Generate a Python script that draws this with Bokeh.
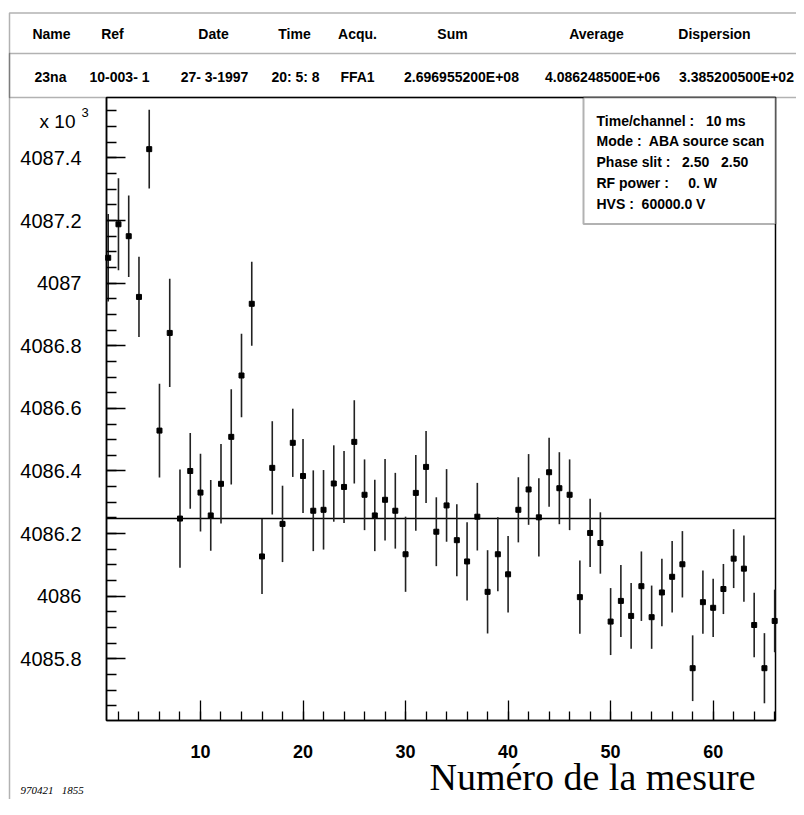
from bokeh.plotting import figure
from bokeh.models import (ColumnDataSource, Label, BoxAnnotation, SingleIntervalTicker,
                          CustomJSTickFormatter, Range1d)
from bokeh.embed import file_html
from bokeh.resources import INLINE

# ---------------- data ----------------
measure = list(range(1, 67))
mean_value = [
    4087.081, 4087.188, 4087.150, 4086.956, 4087.428, 4086.529, 4086.841, 4086.248, 4086.400, 4086.331,
    4086.258, 4086.359, 4086.509, 4086.705, 4086.934, 4086.127, 4086.410, 4086.231, 4086.490, 4086.384,
    4086.273, 4086.276, 4086.360, 4086.349, 4086.493, 4086.324, 4086.258, 4086.308, 4086.273, 4086.134,
    4086.330, 4086.413, 4086.206, 4086.290, 4086.179, 4086.111, 4086.254, 4086.014, 4086.134, 4086.070,
    4086.276, 4086.341, 4086.252, 4086.396, 4086.345, 4086.324, 4085.997, 4086.202, 4086.170, 4085.919,
    4085.985, 4085.937, 4086.032, 4085.933, 4086.012, 4086.062, 4086.102, 4085.770, 4085.981, 4085.963,
    4086.023, 4086.120, 4086.088, 4085.908, 4085.770, 4085.921,
]
error = [
    0.140, 0.147, 0.130, 0.128, 0.126, 0.150, 0.173, 0.157, 0.121, 0.124,
    0.113, 0.127, 0.152, 0.133, 0.134, 0.120, 0.149, 0.122, 0.109, 0.118,
    0.129, 0.127, 0.122, 0.115, 0.133, 0.113, 0.114, 0.130, 0.121, 0.120,
    0.121, 0.115, 0.110, 0.116, 0.115, 0.125, 0.108, 0.133, 0.118, 0.122,
    0.104, 0.113, 0.125, 0.110, 0.115, 0.113, 0.117, 0.109, 0.098, 0.107,
    0.115, 0.105, 0.111, 0.101, 0.108, 0.114, 0.106, 0.105, 0.101, 0.093,
    0.080, 0.094, 0.106, 0.103, 0.112, 0.100,
]
average = 4086.2485

header_names = ["Name", "Ref", "Date", "Time", "Acqu.", "Sum", "Average", "Dispersion"]
header_values = ["23na", "10-003- 1", "27- 3-1997", "20: 5: 8", "FFA1",
                 "2.696955200E+08", "4.086248500E+06", "3.385200500E+02"]
info_lines = ["Time/channel :\u00a0\u00a0 10 ms", "Mode :\u00a0 ABA source scan",
              "Phase slit :\u00a0\u00a0 2.50\u00a0\u00a0 2.50",
              "RF power :\u00a0\u00a0\u00a0\u00a0 0. W", "HVS :\u00a0 60000.0 V"]
x_tick_step = 10
y_tick_step = 0.2
y_scale_text = "x 10"
y_scale_power = "3"
x_title = "Numéro de la mesure"
stamp = "970421\u00a0\u00a0 1855"

# plotted data window
X_LO, X_HI = 0.833, 66.08
Y_LO, Y_HI = 4085.603, 4087.593

# ---------------- layout (canvas pixels) ----------------
W, H = 796, 799
BOX_L, BOX_R, BOX_T, BOX_B = 106, 775, 97, 720   # pixel box of the plotting area
kx = (BOX_R - BOX_L) / (X_HI - X_LO)
ky = (BOX_B - BOX_T) / (Y_HI - Y_LO)
x_range = Range1d(X_LO - BOX_L / kx, X_HI + (W - BOX_R) / kx)
y_range = Range1d(Y_LO - (H - BOX_B) / ky, Y_HI + BOX_T / ky)


def sx(px):
    return px


def sy(py):
    return H - py


SANS = "Liberation Sans"
SCR = dict(left_units="screen", right_units="screen", top_units="screen", bottom_units="screen")

p = figure(width=W, height=H, output_backend="svg", toolbar_location=None,
           x_range=x_range, y_range=y_range, min_border=0)
p.background_fill_color = "white"
p.border_fill_color = "white"
p.outline_line_color = None
p.grid.visible = False

# axes, fixed on the plotting box
p.xaxis.fixed_location = Y_LO
p.yaxis.fixed_location = X_LO
p.xaxis.bounds = (X_LO, X_HI)
p.yaxis.bounds = (Y_LO, Y_HI)
p.xaxis.ticker = SingleIntervalTicker(interval=x_tick_step, num_minor_ticks=5)
p.yaxis.ticker = SingleIntervalTicker(interval=y_tick_step, num_minor_ticks=4)
p.yaxis.formatter = CustomJSTickFormatter(code="return String(Math.round(tick*10)/10)")
for ax in (p.xaxis[0], p.yaxis[0]):
    ax.axis_line_color = "black"
    ax.axis_line_width = 1.5
    ax.major_tick_line_color = "black"
    ax.minor_tick_line_color = "black"
    ax.major_tick_line_width = 1.3
    ax.minor_tick_line_width = 1.3
    ax.major_tick_out = 0
    ax.minor_tick_out = 0
    ax.major_label_text_color = "black"
    ax.major_label_text_font = SANS
p.xaxis.major_tick_in = 20
p.xaxis.minor_tick_in = 9
p.xaxis.major_label_standoff = 24
p.xaxis.major_label_text_font_size = "18px"
p.xaxis.major_label_text_font_style = "bold"
p.yaxis.major_tick_in = 19
p.yaxis.minor_tick_in = 10
p.yaxis.major_label_standoff = 25
p.yaxis.major_label_text_font_size = "20px"

# plotting box (top and right sides) and average line
p.quad(left=[X_LO], right=[X_HI], bottom=[Y_LO], top=[Y_HI], fill_color=None,
       line_color="black", line_width=1.5)
p.segment(x0=[X_LO], x1=[X_HI], y0=[average], y1=[average], line_color="black", line_width=1.5)

# data
src = ColumnDataSource(dict(
    x=measure, y=mean_value,
    lo=[v - e for v, e in zip(mean_value, error)],
    hi=[v + e for v, e in zip(mean_value, error)],
))
p.segment(x0="x", y0="lo", x1="x", y1="hi", source=src, line_color="#222222", line_width=1.6)
p.scatter(x="x", y="y", source=src, marker="square", size=5, fill_color="black", line_color="black")

# header table frame lines
p.add_layout(BoxAnnotation(left=sx(9), right=sx(3000), top=sy(12.5), bottom=sy(3000), **SCR,
                           fill_alpha=0, line_color="black", line_width=1.5))
p.add_layout(BoxAnnotation(left=sx(9), right=sx(3000), top=sy(53), bottom=sy(97), **SCR,
                           fill_alpha=0, line_color="black", line_width=1.5))

name_x = [51, 112, 213, 294, 357, 452, 596, 714]
value_x = [50, 119, 214, 295, 357, 461, 602, 736]
for t, px in zip(header_names, name_x):
    p.add_layout(Label(x=sx(px), y=sy(33), x_units="screen", y_units="screen", text=t,
                       text_align="center", text_baseline="middle", text_font=SANS,
                       text_font_size="14px", text_font_style="bold", text_color="black"))
for t, px in zip(header_values, value_x):
    p.add_layout(Label(x=sx(px), y=sy(76), x_units="screen", y_units="screen", text=t,
                       text_align="center", text_baseline="middle", text_font=SANS,
                       text_font_size="14px", text_font_style="bold", text_color="black"))

# info box
p.add_layout(BoxAnnotation(left=sx(583), right=sx(775), top=sy(97), bottom=sy(223.5), **SCR,
                           fill_color="white", fill_alpha=1, line_color="black", line_width=2))
for i, t in enumerate(info_lines):
    p.add_layout(Label(x=sx(596), y=sy(120 + i * 20.8), x_units="screen", y_units="screen", text=t,
                       text_align="left", text_baseline="middle", text_font=SANS,
                       text_font_size="14px", text_font_style="bold", text_color="black"))

# y multiplier
p.add_layout(Label(x=sx(75), y=sy(121), x_units="screen", y_units="screen", text=y_scale_text,
                   text_align="right", text_baseline="middle", text_font=SANS,
                   text_font_size="19px", text_color="black"))
p.add_layout(Label(x=sx(81), y=sy(112), x_units="screen", y_units="screen", text=y_scale_power,
                   text_align="left", text_baseline="middle", text_font=SANS,
                   text_font_size="13px", text_color="black"))

# x title and stamp
p.add_layout(Label(x=sx(592), y=sy(776), x_units="screen", y_units="screen", text=x_title,
                   text_align="center", text_baseline="middle", text_font="Liberation Serif",
                   text_font_size="38px", text_color="black"))
p.add_layout(Label(x=sx(20), y=sy(789), x_units="screen", y_units="screen", text=stamp,
                   text_align="left", text_baseline="middle", text_font="Liberation Serif",
                   text_font_size="11px", text_font_style="italic", text_color="black"))

open("out.html", "w").write(file_html(p, INLINE))
